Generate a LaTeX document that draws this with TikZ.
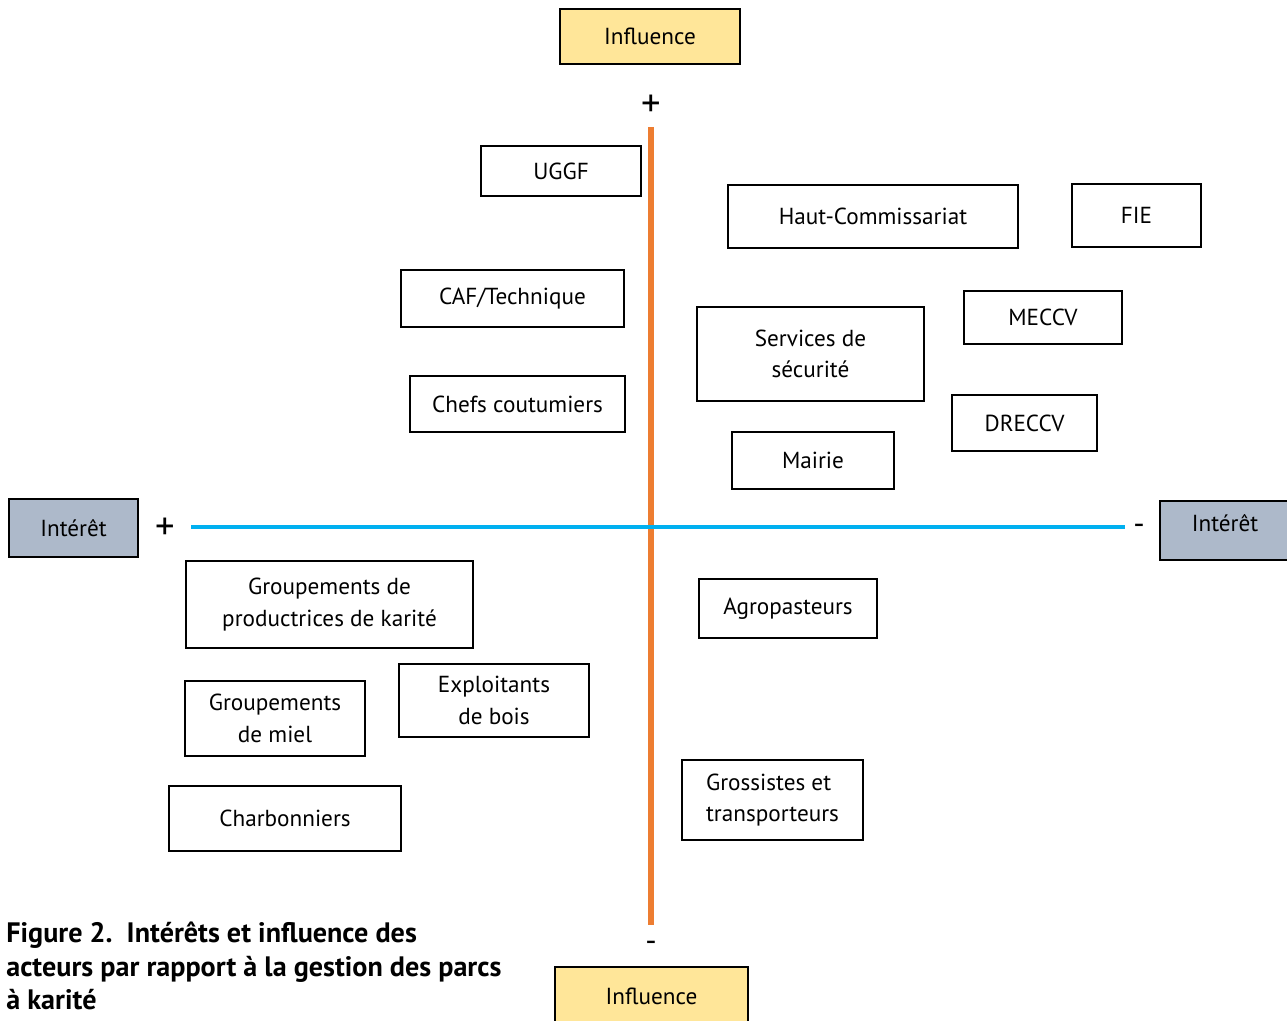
\documentclass[tikz,border=0pt]{standalone}
\usepackage{fontspec}
\setmainfont{PT Sans}
\definecolor{axisorange}{RGB}{237,125,49}
\definecolor{axisblue}{RGB}{0,176,240}
\definecolor{inflfill}{RGB}{255,230,153}
\definecolor{intfill}{RGB}{173,185,202}
\tikzset{
  actor/.style={draw, line width=1pt, inner sep=0pt, align=center,
    font=\fontsize{13.2}{17.8}\selectfont},
  axislabel/.style={actor},
  sign/.style={inner sep=0pt, font=\fontsize{22}{24}\selectfont}
}
\begin{document}
\begin{tikzpicture}
  \useasboundingbox (0,0) rectangle (25.74,20.42);
  \clip (0,0) rectangle (25.74,20.42);

  % Drawing axis influence
  \coordinate (inftopend) at (13.02,17.88);
  \coordinate (infbotend) at (13.02,1.92);
  \draw [line width=3.4pt, axisorange] (inftopend) -- (infbotend);%

  % Drawing axis interet
  \coordinate (intleftend) at (3.82,9.88);
  \coordinate (intrightend) at (22.50,9.88);
  \draw [line width=2.8pt, axisblue] (intleftend) -- (intrightend);%

  % Marking axis boxes
  \node [axislabel, fill=inflfill, minimum width=3.6cm, minimum height=1.1cm] (inftop) at (13.00,19.69) {Influence};%
  \node [axislabel, fill=inflfill, minimum width=3.86cm, minimum height=1.16cm] (infbot) at (13.03,0.50) {Influence};%
  \node [axislabel, fill=intfill, minimum width=2.58cm, minimum height=1.16cm] (intleft) at (1.47,9.86) {Intérêt};%
  \node [axislabel, fill=intfill, minimum width=2.6cm, minimum height=1.18cm, text depth=0.3cm] (intright) at (24.50,9.81) {Intérêt};%

  % Marking signs
  \node [sign] (plustop) at (13.02,18.30) {+};%
  \node [sign] (plusleft) at (3.30,9.84) {+};%
  \node [sign, font=\fontsize{18}{20}\selectfont] (minusright) at (22.78,9.84) {-};%
  \node [sign, font=\fontsize{18}{20}\selectfont] (minusbot) at (13.02,1.50) {-};%

  % Marking actors, upper left
  \node [actor, minimum width=3.2cm, minimum height=1.0cm] (uggf) at (11.22,17.00) {UGGF};%
  \node [actor, minimum width=4.46cm, minimum height=1.14cm] (caf) at (10.25,14.45) {CAF/Technique};%
  \node [actor, minimum width=4.3cm, minimum height=1.12cm] (chefs) at (10.35,12.34) {Chefs coutumiers};%

  % Marking actors, upper right
  \node [actor, minimum width=5.8cm, minimum height=1.26cm] (haut) at (17.46,16.09) {Haut-Commissariat};%
  \node [actor, minimum width=2.58cm, minimum height=1.26cm] (fie) at (22.73,16.11) {FIE};%
  \node [actor, minimum width=3.16cm, minimum height=1.06cm] (meccv) at (20.86,14.07) {MECCV};%
  \node [actor, minimum width=4.54cm, minimum height=1.88cm] (secu) at (16.21,13.34) {Services de\\sécurité};%
  \node [actor, minimum width=2.9cm, minimum height=1.12cm] (dreccv) at (20.49,11.96) {DRECCV};%
  \node [actor, minimum width=3.24cm, minimum height=1.14cm] (mairie) at (16.26,11.21) {Mairie};%

  % Marking actors, lower left
  \node [actor, minimum width=5.74cm, minimum height=1.74cm] (grpkarite) at (6.59,8.33) {Groupements de\\productrices de karité};%
  \node [actor, minimum width=3.6cm, minimum height=1.5cm] (grpmiel) at (5.50,6.05) {Groupements\\de miel};%
  \node [actor, minimum width=3.8cm, minimum height=1.46cm] (exploitants) at (9.88,6.41) {Exploitants\\de bois};%
  \node [actor, minimum width=4.64cm, minimum height=1.3cm] (charbon) at (5.70,4.05) {Charbonniers};%

  % Marking actors, lower right
  \node [actor, minimum width=3.56cm, minimum height=1.18cm] (agro) at (15.76,8.25) {Agropasteurs};%
  \node [actor, align=left, minimum width=3.62cm, minimum height=1.6cm] (grossistes) at (15.45,4.42) {Grossistes et\\transporteurs};%

  % Marking caption
  \node [anchor=base west, inner sep=0pt, align=left, font=\bfseries\fontsize{16}{19.3}\selectfont] (caption) at (0.12,0.22)
    {Figure 2.\ \ Intérêts et influence des\\acteurs par rapport à la gestion des parcs\\à karité};%
\end{tikzpicture}
\end{document}
